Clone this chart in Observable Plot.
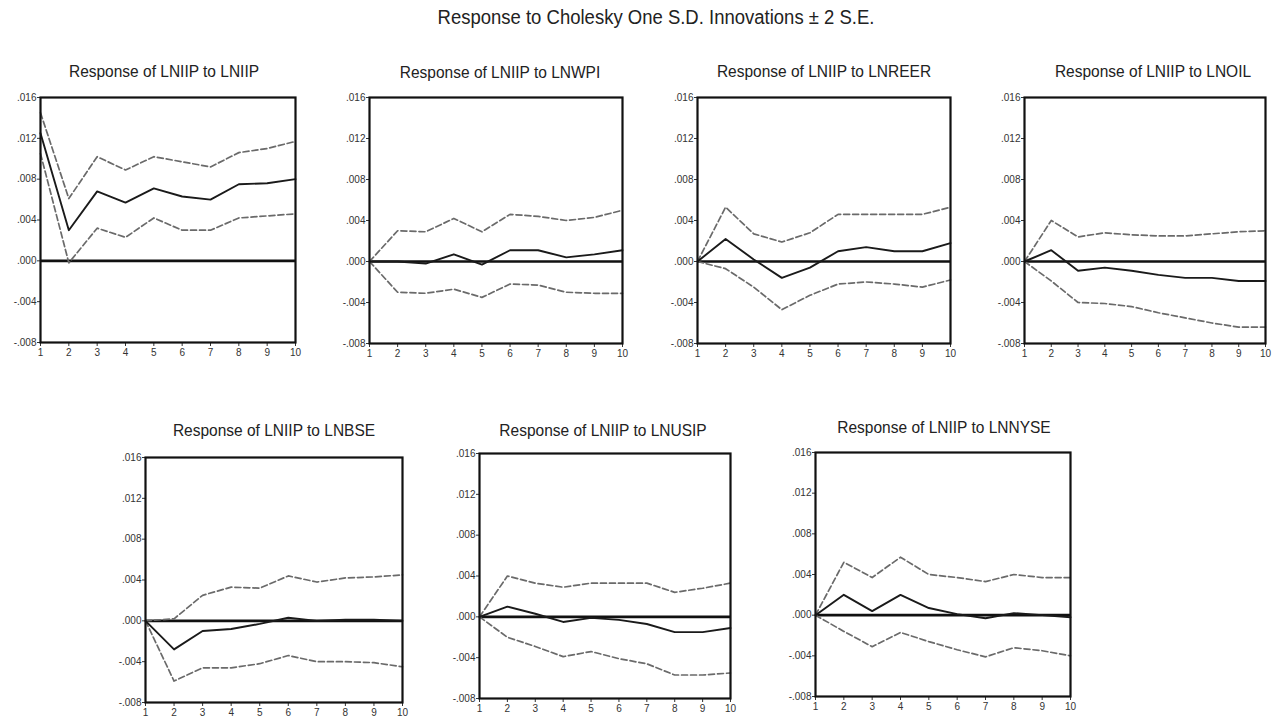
<!DOCTYPE html>
<html><head><meta charset="utf-8">
<script src="https://cdn.jsdelivr.net/npm/d3@7"></script>
<script src="https://cdn.jsdelivr.net/npm/@observablehq/plot@0.6"></script>
<style>
html,body{margin:0;padding:0;background:#fff;overflow:hidden;}
#root{position:relative;width:1274px;height:718px;overflow:hidden;font-family:"Liberation Sans",Arial,sans-serif;background:#fff;}
.t{position:absolute;white-space:nowrap;color:#222;transform:translate(-50%,-50%) scaleY(1.08);line-height:1;}
.p{position:absolute;}
</style></head><body><div id="root"></div>
<script>
// ---------- data ----------
const periods = [1, 2, 3, 4, 5, 6, 7, 8, 9, 10];
const yTicks = [-0.008, -0.004, 0, 0.004, 0.008, 0.012, 0.016];
const mainTitle = "Response to Cholesky One S.D. Innovations \u00B1 2 S.E.";
const panelTitles = [
  "Response of LNIIP to LNIIP",
  "Response of LNIIP to LNWPI",
  "Response of LNIIP to LNREER",
  "Response of LNIIP to LNOIL",
  "Response of LNIIP to LNBSE",
  "Response of LNIIP to LNUSIP",
  "Response of LNIIP to LNNYSE"
];

// Response of LNIIP to LNIIP
const respIIP  = [0.0125, 0.0030, 0.0068, 0.0057, 0.0071, 0.0063, 0.0060, 0.0075, 0.0076, 0.0080];
const upperIIP = [0.0145, 0.0061, 0.0102, 0.0089, 0.0102, 0.0097, 0.0092, 0.0106, 0.0110, 0.0117];
const lowerIIP = [0.0105, -0.0002, 0.0032, 0.0023, 0.0042, 0.0030, 0.0030, 0.0042, 0.0044, 0.0046];

// Response of LNIIP to LNWPI
const respWPI  = [0, 0, -0.0002, 0.0007, -0.0003, 0.0011, 0.0011, 0.0004, 0.0007, 0.0011];
const upperWPI = [0, 0.0030, 0.0029, 0.0042, 0.0029, 0.0046, 0.0044, 0.0040, 0.0043, 0.0050];
const lowerWPI = [0, -0.0030, -0.0031, -0.0027, -0.0035, -0.0022, -0.0023, -0.0030, -0.0031, -0.0031];

// Response of LNIIP to LNREER
const respREER  = [0, 0.0022, 0.0002, -0.0016, -0.0006, 0.0010, 0.0014, 0.0010, 0.0010, 0.0018];
const upperREER = [0, 0.0053, 0.0027, 0.0019, 0.0028, 0.0046, 0.0046, 0.0046, 0.0046, 0.0053];
const lowerREER = [0, -0.0007, -0.0025, -0.0047, -0.0033, -0.0022, -0.0020, -0.0022, -0.0025, -0.0018];

// Response of LNIIP to LNOIL
const respOIL  = [0, 0.0011, -0.0009, -0.0006, -0.0009, -0.0013, -0.0016, -0.0016, -0.0019, -0.0019];
const upperOIL = [0, 0.0040, 0.0024, 0.0028, 0.0026, 0.0025, 0.0025, 0.0027, 0.0029, 0.0030];
const lowerOIL = [0, -0.0019, -0.0040, -0.0041, -0.0044, -0.0050, -0.0055, -0.0060, -0.0064, -0.0064];

// Response of LNIIP to LNBSE
const respBSE  = [0, -0.0028, -0.0010, -0.0008, -0.0003, 0.0003, 0, 0.0001, 0.0001, 0];
const upperBSE = [0, 0.0002, 0.0025, 0.0033, 0.0032, 0.0044, 0.0038, 0.0042, 0.0043, 0.0045];
const lowerBSE = [0, -0.0059, -0.0046, -0.0046, -0.0042, -0.0034, -0.0040, -0.0040, -0.0041, -0.0045];

// Response of LNIIP to LNUSIP
const respUSIP  = [0, 0.0010, 0.0003, -0.0005, -0.0001, -0.0003, -0.0007, -0.0015, -0.0015, -0.0011];
const upperUSIP = [0, 0.0040, 0.0033, 0.0029, 0.0033, 0.0033, 0.0033, 0.0024, 0.0028, 0.0033];
const lowerUSIP = [0, -0.0020, -0.0029, -0.0039, -0.0034, -0.0041, -0.0046, -0.0057, -0.0057, -0.0055];

// Response of LNIIP to LNNYSE
const respNYSE  = [0, 0.0020, 0.0004, 0.0020, 0.0007, 0.0001, -0.0003, 0.0002, 0, -0.0002];
const upperNYSE = [0, 0.0052, 0.0037, 0.0057, 0.0040, 0.0037, 0.0033, 0.0040, 0.0037, 0.0037];
const lowerNYSE = [0, -0.0016, -0.0031, -0.0017, -0.0026, -0.0034, -0.0041, -0.0032, -0.0035, -0.0040];

// ---------- layout (frame boxes in page pixels, title centres) ----------
const panels = [
  {r: respIIP,  u: upperIIP,  l: lowerIIP,  frame: [40, 97, 295, 342],  tc: [164, 71]},
  {r: respWPI,  u: upperWPI,  l: lowerWPI,  frame: [369, 97, 622, 343], tc: [500, 72]},
  {r: respREER, u: upperREER, l: lowerREER, frame: [697, 97, 950, 343], tc: [824, 71]},
  {r: respOIL,  u: upperOIL,  l: lowerOIL,  frame: [1024, 97, 1265, 343], tc: [1153, 71]},
  {r: respBSE,  u: upperBSE,  l: lowerBSE,  frame: [145, 457, 402, 702], tc: [274, 430]},
  {r: respUSIP, u: upperUSIP, l: lowerUSIP, frame: [479, 453, 730, 698], tc: [603, 430]},
  {r: respNYSE, u: upperNYSE, l: lowerNYSE, frame: [815, 452, 1070, 696], tc: [944, 427]}
];

const root = document.getElementById("root");
function addText(txt, cx, cy, size) {
  const d = document.createElement("div");
  d.className = "t";
  d.textContent = txt;
  d.style.left = cx + "px";
  d.style.top = cy + "px";
  d.style.fontSize = size + "px";
  root.appendChild(d);
}
addText(mainTitle, 656, 18, 18.5);

const yFmt = v => {
  const s = d3.format(".3f")(Math.abs(v)).replace(/^0/, "");
  return (v < 0 ? "-" : "") + s;
};

const ml = 40, mr = 8, mt = 6, mb = 24;
panels.forEach((p, k) => {
  const [x0, y0, x1, y1] = p.frame;
  const data = periods.map((t, i) => ({t, r: p.r[i], u: p.u[i], l: p.l[i]}));
  const chart = Plot.plot({
    width: (x1 - x0) + ml + mr,
    height: (y1 - y0) + mt + mb,
    marginLeft: ml, marginRight: mr, marginTop: mt, marginBottom: mb,
    style: {fontSize: "10px", fontFamily: "Liberation Sans, Arial, sans-serif", color: "#333", background: "transparent"},
    x: {domain: [1, 10], ticks: periods, tickFormat: d => String(d), tickSize: 4, tickPadding: 2, label: null},
    y: {domain: [-0.008, 0.016], ticks: yTicks, tickFormat: yFmt, tickSize: 3, tickPadding: 1, label: null},
    marks: [
      Plot.ruleY([0], {stroke: "#111", strokeWidth: 2.6}),
      Plot.line(data, {x: "t", y: "u", stroke: "#6a6a6a", strokeWidth: 1.7, strokeDasharray: "6,3"}),
      Plot.line(data, {x: "t", y: "l", stroke: "#6a6a6a", strokeWidth: 1.7, strokeDasharray: "6,3"}),
      Plot.line(data, {x: "t", y: "r", stroke: "#1a1a1a", strokeWidth: 1.9}),
      Plot.frame({stroke: "#111", strokeWidth: 2.2})
    ]
  });
  chart.classList.add("p");
  chart.style.left = (x0 - ml) + "px";
  chart.style.top = (y0 - mt) + "px";
  root.appendChild(chart);
  addText(panelTitles[k], p.tc[0], p.tc[1], 15.5);
});
</script>
</body></html>
